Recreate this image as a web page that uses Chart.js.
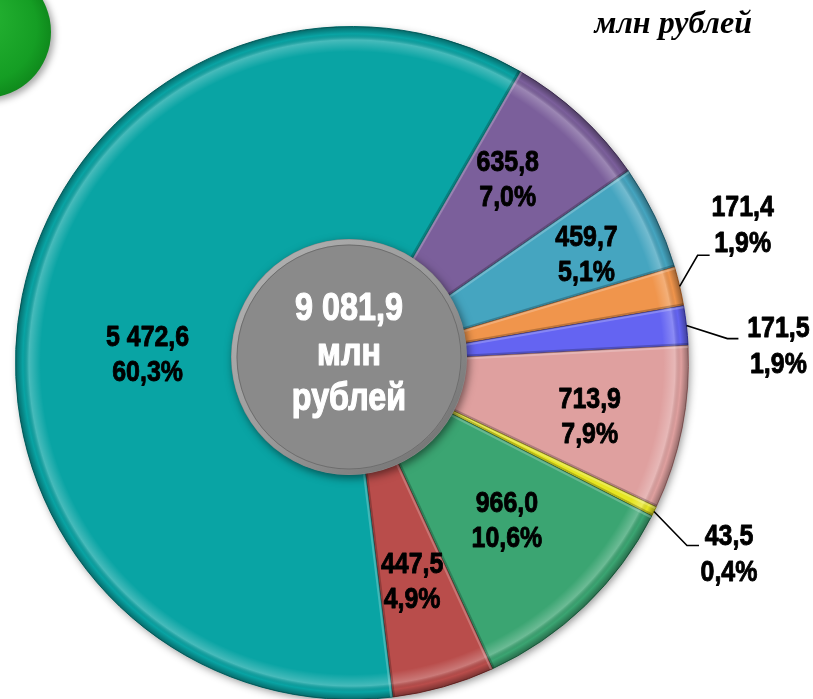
<!DOCTYPE html>
<html>
<head>
<meta charset="utf-8">
<script src="https://cdn.jsdelivr.net/npm/chart.js@4.4.1/dist/chart.umd.min.js"></script>
<style>
  html, body { margin: 0; padding: 0; background: #ffffff; overflow: hidden; }
  #wrap { position: absolute; left: 0; top: 0; width: 813px; height: 720px; }
</style>
</head>
<body>
<div id="wrap"><canvas id="c" width="813" height="720"></canvas></div>
<script>
// ---- DATA ----
const categories = ['635,8', '459,7', '171,4', '171,5', '713,9', '43,5', '966,0', '447,5', '5 472,6'];
const values = [635.8, 459.7, 171.4, 171.5, 713.9, 43.5, 966.0, 447.5, 5472.6];
const valueLabels = ['635,8', '459,7', '171,4', '171,5', '713,9', '43,5', '966,0', '447,5', '5 472,6'];
const percentLabels = ['7,0%', '5,1%', '1,9%', '1,9%', '7,9%', '0,4%', '10,6%', '4,9%', '60,3%'];
const totalLines = ['9 081,9', 'млн', 'рублей'];
const unitText = 'млн рублей';

// ---- STYLE / LAYOUT (not data) ----
const colors = ['#7b5f9b', '#45a5c0', '#f0954c', '#6464f2', '#dfa09f', '#e6e622', '#3ba572', '#b94d4b', '#09a4a4'];
const borders = ['#4f3a68', '#2a7186', '#a8602a', '#3838a8', '#a06c6c', '#9a9a10', '#23704b', '#7a2e2c', '#067070'];
const insideLayout = {
  0: { f: 0.714, da: -2.2 },
  1: { f: 0.767, da: 1.0 },
  4: { f: 0.725, da: 1.8 },
  6: { f: 0.659, da: -0.5 },
  7: { f: 0.677, da: 0.5 },
  8: { f: 0.608, da: -9.3 }
};
const outsideLayout = {
  2: { elbow: [18, -31], end: [30, -31], text: [63, -60] },
  3: { elbow: [41, 13], end: [52, 13], text: [92, 21] },
  5: { elbow: [33, 34], end: [45, 34], text: [75, 44] }
};

function narrowText(ctx, text, x, y, size, sx, color, baseline, thick) {
  ctx.save();
  ctx.font = 'bold ' + size + 'px "Liberation Sans", Arial, sans-serif';
  ctx.fillStyle = color;
  ctx.strokeStyle = color;
  ctx.lineWidth = thick || 0.9;
  ctx.lineJoin = 'round';
  ctx.textAlign = 'center';
  ctx.textBaseline = baseline || 'middle';
  ctx.translate(x, y);
  ctx.scale(sx, 1);
  ctx.fillText(text, 0, 0);
  ctx.strokeText(text, 0, 0);
  ctx.restore();
}

const decorPlugin = {
  id: 'decor',
  beforeDatasetsDraw(chart) {
    const ctx = chart.ctx;
    const arc = chart.getDatasetMeta(0).data[0];
    const p = arc.getProps(['x', 'y', 'outerRadius'], true);
    // green ball top-left
    ctx.save();
    ctx.shadowColor = 'rgba(0,0,0,0.35)';
    ctx.shadowBlur = 7;
    ctx.shadowOffsetX = 3;
    ctx.shadowOffsetY = 3;
    const g = ctx.createRadialGradient(-25, 10, 5, -15, 32, 66);
    g.addColorStop(0, '#27b534');
    g.addColorStop(0.8, '#159e24');
    g.addColorStop(1, '#0f8a1c');
    ctx.fillStyle = g;
    ctx.beginPath();
    ctx.arc(-15, 32, 66, 0, Math.PI * 2);
    ctx.fill();
    ctx.restore();
    // pie shadow
    ctx.save();
    ctx.shadowColor = 'rgba(0,0,0,0.45)';
    ctx.shadowBlur = 8;
    ctx.shadowOffsetX = 2;
    ctx.shadowOffsetY = 3;
    ctx.fillStyle = '#555';
    ctx.beginPath();
    ctx.arc(p.x, p.y, p.outerRadius - 1, 0, Math.PI * 2);
    ctx.fill();
    ctx.restore();
  },
  afterDatasetsDraw(chart) {
    const ctx = chart.ctx;
    const meta = chart.getDatasetMeta(0);
    // bevel overlays
    meta.data.forEach((el, i) => {
      const a = el.getProps(['x', 'y', 'startAngle', 'endAngle', 'outerRadius'], true);
      ctx.save();
      ctx.beginPath();
      ctx.moveTo(a.x, a.y);
      ctx.arc(a.x, a.y, a.outerRadius, a.startAngle, a.endAngle);
      ctx.closePath();
      ctx.clip();
      const rg = ctx.createRadialGradient(a.x, a.y, 0, a.x, a.y, a.outerRadius);
      rg.addColorStop(0, 'rgba(0,0,0,0)');
      rg.addColorStop(0.925, 'rgba(255,255,255,0)');
      rg.addColorStop(0.96, 'rgba(255,255,255,0.25)');
      rg.addColorStop(0.978, 'rgba(0,0,0,0.0)');
      rg.addColorStop(1, 'rgba(0,0,0,0.35)');
      ctx.fillStyle = rg;
      ctx.fillRect(a.x - a.outerRadius, a.y - a.outerRadius, a.outerRadius * 2, a.outerRadius * 2);
      ctx.lineWidth = 5;
      ctx.strokeStyle = 'rgba(255,255,255,0.22)';
      ctx.beginPath();
      ctx.moveTo(a.x, a.y);
      ctx.lineTo(a.x + a.outerRadius * Math.cos(a.startAngle), a.y + a.outerRadius * Math.sin(a.startAngle));
      ctx.stroke();
      ctx.strokeStyle = 'rgba(0,0,0,0.22)';
      ctx.beginPath();
      ctx.moveTo(a.x, a.y);
      ctx.lineTo(a.x + a.outerRadius * Math.cos(a.endAngle), a.y + a.outerRadius * Math.sin(a.endAngle));
      ctx.stroke();
      ctx.restore();
    });

    const c0 = meta.data[0].getProps(['x', 'y', 'outerRadius'], true);
    const cx = c0.x - 3, cy = c0.y - 6, cr = 118;
    // gray center disc
    ctx.save();
    ctx.shadowColor = 'rgba(0,0,0,0.5)';
    ctx.shadowBlur = 8;
    ctx.shadowOffsetX = 2;
    ctx.shadowOffsetY = 3;
    ctx.fillStyle = '#8a8a8a';
    ctx.beginPath();
    ctx.arc(cx, cy, cr, 0, Math.PI * 2);
    ctx.fill();
    ctx.restore();
    ctx.save();
    const ring = ctx.createLinearGradient(cx - cr, cy - cr, cx + cr, cy + cr);
    ring.addColorStop(0, '#b5b5b5');
    ring.addColorStop(0.5, '#9a9a9a');
    ring.addColorStop(1, '#6a6a6a');
    ctx.strokeStyle = ring;
    ctx.lineWidth = 5;
    ctx.beginPath();
    ctx.arc(cx, cy, cr - 3, 0, Math.PI * 2);
    ctx.stroke();
    ctx.strokeStyle = 'rgba(90,90,90,0.6)';
    ctx.lineWidth = 1;
    ctx.beginPath();
    ctx.arc(cx, cy, cr - 6, 0, Math.PI * 2);
    ctx.stroke();
    ctx.restore();
    narrowText(ctx, totalLines[0], cx, cy - 37, 38, 0.85, '#ffffff', 'alphabetic', 1.2);
    narrowText(ctx, totalLines[1], cx, cy + 8, 38, 0.85, '#ffffff', 'alphabetic', 1.2);
    narrowText(ctx, totalLines[2], cx, cy + 53, 38, 0.85, '#ffffff', 'alphabetic', 1.2);

    // slice labels
    meta.data.forEach((el, i) => {
      const a = el.getProps(['x', 'y', 'startAngle', 'endAngle', 'outerRadius'], true);
      const mid = (a.startAngle + a.endAngle) / 2;
      if (insideLayout[i]) {
        const L = insideLayout[i];
        const ang = mid + L.da * Math.PI / 180;
        const tx = a.x + a.outerRadius * L.f * Math.cos(ang);
        const ty = a.y + a.outerRadius * L.f * Math.sin(ang);
        narrowText(ctx, valueLabels[i], tx, ty - 17.5, 29, 0.86, '#000000');
        narrowText(ctx, percentLabels[i], tx, ty + 17.5, 29, 0.86, '#000000');
      } else if (outsideLayout[i]) {
        const L = outsideLayout[i];
        const ex = a.x + a.outerRadius * Math.cos(mid);
        const ey = a.y + a.outerRadius * Math.sin(mid);
        ctx.save();
        ctx.strokeStyle = '#000000';
        ctx.lineWidth = 1.6;
        ctx.beginPath();
        ctx.moveTo(ex, ey);
        ctx.lineTo(ex + L.elbow[0], ey + L.elbow[1]);
        ctx.lineTo(ex + L.end[0], ey + L.end[1]);
        ctx.stroke();
        ctx.restore();
        const tx = ex + L.text[0], ty = ey + L.text[1];
        narrowText(ctx, valueLabels[i], tx, ty - 18, 29, 0.86, '#000000');
        narrowText(ctx, percentLabels[i], tx, ty + 18, 29, 0.86, '#000000');
      }
    });

    // unit caption top right
    ctx.save();
    ctx.font = 'italic bold 32px "Liberation Serif", "Times New Roman", serif';
    ctx.fillStyle = '#000000';
    ctx.textAlign = 'right';
    ctx.textBaseline = 'alphabetic';
    ctx.fillText(unitText, 752, 33);
    ctx.restore();
  }
};

new Chart(document.getElementById('c'), {
  type: 'pie',
  data: {
    labels: categories,
    datasets: [{
      data: values,
      backgroundColor: colors,
      borderColor: borders,
      borderWidth: 1
    }]
  },
  options: {
    responsive: false,
    animation: false,
    rotation: 30,
    layout: { padding: { left: 15, right: 124, top: 26, bottom: 20 } },
    plugins: {
      legend: { display: false },
      tooltip: { enabled: false },
      title: { display: false }
    }
  },
  plugins: [decorPlugin]
});
</script>
</body>
</html>
